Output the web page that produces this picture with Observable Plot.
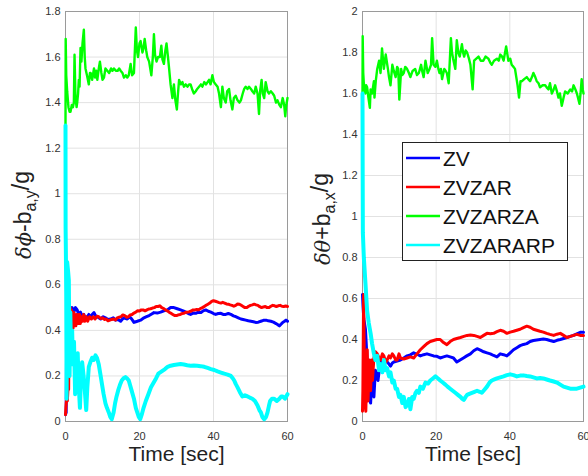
<!DOCTYPE html>
<html>
<head>
<meta charset="utf-8">
<script src="https://cdn.jsdelivr.net/npm/d3@7"></script>
<script src="https://cdn.jsdelivr.net/npm/@observablehq/plot@0.6"></script>
<style>
  html, body { margin: 0; padding: 0; background: #fff; }
  #wrap { position: relative; width: 588px; height: 476px; overflow: hidden; }
  #wrap svg { position: absolute; top: 0; }
</style>
</head>
<body>
<div id="wrap"></div>
<script>
// ---------- tick labels / categories ----------
const xTicks = [0, 20, 40, 60];
const yTicksLeft = [0, 0.2, 0.4, 0.6, 0.8, 1, 1.2, 1.4, 1.6, 1.8];
const yTicksRight = [0, 0.2, 0.4, 0.6, 0.8, 1, 1.2, 1.4, 1.6, 1.8, 2];
const seriesNames = ["ZV", "ZVZAR", "ZVZARZA", "ZVZARARP"];
const seriesColors = ["#0000ff", "#ff0000", "#00ff00", "#00ffff"];
const xLabel = "Time [sec]";

// ---------- left panel series [time, value] ----------
const leftZV = [[0,0.03],[0.18,0.04],[0.36,0.50],[0.45,0.51],[0.9,0.52],[1.35,0.49],[1.8,0.50],[2.26,0.48],[2.7,0.50],[3.16,0.49],[3.6,0.47],[4.06,0.48],[4.5,0.46],[4.96,0.47],[5.4,0.45],[5.9,0.46],[6.3,0.47],[6.8,0.456],[7.2,0.47],[7.7,0.478],[8.1,0.465],[8.6,0.46],[9.5,0.45],[10.2,0.46],[10.8,0.455],[11.5,0.448],[12.2,0.45],[12.9,0.455],[13.5,0.445],[14.2,0.448],[14.9,0.44],[15.4,0.45],[15.8,0.455],[16.7,0.45],[17.2,0.458],[17.6,0.456],[18.1,0.445],[18.5,0.435],[19.0,0.438],[19.4,0.44],[20.3,0.445],[21.2,0.455],[21.9,0.46],[22.6,0.465],[23.3,0.472],[23.9,0.478],[24.8,0.476],[25.7,0.48],[26.6,0.486],[27.5,0.49],[28.4,0.50],[29.3,0.50],[30.2,0.495],[31.1,0.49],[31.8,0.486],[32.5,0.48],[33.2,0.474],[33.8,0.47],[34.5,0.476],[35.2,0.475],[35.9,0.48],[36.6,0.478],[37.2,0.486],[37.9,0.49],[38.6,0.484],[39.3,0.48],[40.0,0.474],[40.6,0.47],[41.3,0.474],[42.0,0.475],[42.6,0.47],[43.3,0.47],[44.0,0.474],[44.7,0.47],[45.4,0.464],[46.0,0.46],[46.7,0.455],[47.4,0.45],[48.0,0.448],[48.7,0.445],[49.4,0.442],[50.1,0.44],[50.8,0.438],[51.4,0.435],[52.1,0.436],[52.8,0.44],[53.5,0.444],[54.2,0.445],[54.8,0.442],[55.5,0.44],[56.2,0.436],[56.9,0.43],[57.4,0.425],[57.8,0.42],[58.3,0.428],[58.7,0.435],[59.2,0.44],[59.6,0.445],[60,0.44]];

const leftZVZAR = [[0,0.03],[0.1,0.06],[0.3,0.10],[0.5,0.09],[0.7,0.15],[0.85,0.14],[1.0,0.48],[1.15,0.40],[1.3,0.50],[1.45,0.39],[1.6,0.49],[1.75,0.40],[1.9,0.48],[2.05,0.41],[2.2,0.48],[2.4,0.42],[2.6,0.47],[2.8,0.42],[3.0,0.47],[3.2,0.43],[3.4,0.47],[3.6,0.43],[3.8,0.47],[4.0,0.43],[4.3,0.46],[4.6,0.44],[4.9,0.47],[5.2,0.44],[5.6,0.46],[6.0,0.44],[6.5,0.46],[7.0,0.45],[7.5,0.46],[8.0,0.45],[8.5,0.462],[9.0,0.46],[9.5,0.452],[10,0.455],[10.5,0.448],[11,0.45],[11.5,0.442],[12,0.445],[12.5,0.448],[13,0.45],[13.5,0.446],[14,0.455],[14.5,0.458],[15,0.46],[15.5,0.468],[16,0.465],[16.5,0.458],[17,0.46],[17.5,0.468],[18,0.47],[18.5,0.476],[19,0.48],[19.5,0.486],[20,0.485],[20.5,0.49],[21,0.49],[21.5,0.486],[22,0.49],[22.5,0.494],[23,0.495],[23.5,0.498],[24,0.50],[24.5,0.505],[25,0.505],[25.5,0.508],[26,0.50],[26.5,0.496],[27,0.49],[27.5,0.486],[28,0.48],[28.5,0.475],[29,0.47],[29.5,0.465],[30,0.465],[30.5,0.468],[31,0.47],[31.5,0.474],[32,0.475],[32.5,0.48],[33,0.48],[33.5,0.482],[34,0.485],[34.5,0.49],[35,0.49],[35.5,0.492],[36,0.49],[36.5,0.496],[37,0.50],[37.5,0.505],[38,0.51],[38.5,0.515],[39,0.52],[39.5,0.527],[40,0.53],[40.5,0.528],[41,0.525],[41.5,0.522],[42,0.52],[42.5,0.523],[43,0.52],[43.5,0.516],[44,0.515],[44.5,0.512],[45,0.51],[45.5,0.506],[46,0.51],[46.5,0.516],[47,0.515],[47.5,0.51],[48,0.505],[48.5,0.50],[49,0.50],[49.5,0.506],[50,0.51],[50.5,0.512],[51,0.515],[51.5,0.512],[52,0.51],[52.5,0.504],[53,0.50],[53.5,0.503],[54,0.505],[54.5,0.50],[55,0.50],[55.5,0.506],[56,0.51],[56.5,0.508],[57,0.505],[57.5,0.508],[58,0.51],[58.5,0.506],[59,0.505],[59.5,0.507],[60,0.505]];

const leftZVZARZA = [[0,1.30],[0.05,1.68],[0.2,1.52],[0.45,1.45],[0.8,1.38],[1.1,1.36],[1.35,1.36],[1.7,1.39],[2.0,1.38],[2.26,1.40],[2.44,1.61],[2.7,1.42],[3.0,1.38],[3.16,1.40],[3.4,1.44],[3.6,1.50],[3.8,1.47],[4.06,1.64],[4.3,1.58],[4.6,1.66],[4.96,1.72],[5.2,1.60],[5.4,1.55],[5.8,1.52],[6.3,1.48],[6.6,1.53],[6.8,1.53],[7.2,1.50],[7.7,1.55],[8.0,1.51],[8.3,1.54],[8.6,1.50],[9.0,1.55],[9.3,1.58],[9.7,1.53],[10.0,1.50],[10.4,1.51],[10.8,1.55],[11.3,1.54],[11.8,1.53],[12.3,1.55],[12.7,1.54],[13.1,1.55],[13.6,1.54],[14.1,1.54],[14.5,1.55],[14.9,1.54],[15.4,1.53],[15.8,1.51],[16.3,1.52],[16.7,1.51],[17.1,1.52],[17.6,1.57],[18.0,1.52],[18.5,1.53],[19.0,1.73],[19.3,1.63],[19.6,1.60],[20.0,1.66],[20.3,1.67],[20.8,1.62],[21.1,1.64],[21.4,1.68],[21.8,1.63],[22.1,1.60],[22.6,1.58],[23.2,1.52],[23.6,1.60],[23.9,1.70],[24.2,1.61],[24.6,1.58],[25.0,1.60],[25.5,1.60],[25.9,1.65],[26.2,1.59],[26.6,1.57],[27.0,1.63],[27.3,1.66],[27.7,1.60],[28.0,1.55],[28.4,1.48],[28.9,1.42],[29.3,1.48],[29.7,1.41],[30.1,1.37],[30.4,1.44],[30.7,1.50],[31.2,1.48],[31.6,1.49],[32.0,1.47],[32.5,1.48],[33.0,1.47],[33.4,1.48],[33.8,1.48],[34.2,1.46],[34.7,1.44],[35.2,1.45],[35.6,1.46],[36.1,1.47],[36.6,1.48],[37.0,1.47],[37.5,1.49],[38.0,1.48],[38.4,1.49],[38.8,1.50],[39.2,1.48],[39.7,1.52],[40.1,1.49],[40.6,1.48],[41.1,1.47],[41.5,1.44],[42.0,1.38],[42.4,1.47],[42.8,1.42],[43.3,1.40],[43.7,1.45],[44.2,1.46],[44.6,1.41],[45.1,1.37],[45.5,1.42],[46.0,1.43],[46.5,1.41],[47.0,1.40],[47.4,1.41],[47.9,1.44],[48.3,1.46],[48.7,1.47],[49.2,1.46],[49.6,1.47],[50.1,1.46],[50.5,1.45],[51.0,1.44],[51.4,1.47],[51.9,1.44],[52.3,1.35],[52.6,1.45],[53.0,1.50],[53.3,1.44],[53.7,1.42],[54.1,1.49],[54.6,1.45],[55.0,1.44],[55.5,1.45],[56.0,1.44],[56.4,1.43],[56.9,1.40],[57.3,1.41],[57.8,1.39],[58.2,1.38],[58.7,1.42],[59.1,1.39],[59.4,1.34],[59.6,1.38],[60,1.42]];

const leftZVZARARP = [[0,1.30],[0.03,0.85],[0.1,0.75],[0.2,0.55],[0.3,0.10],[0.4,0.45],[0.45,0.70],[0.7,0.66],[0.9,0.62],[1.1,0.20],[1.3,0.48],[1.5,0.30],[1.8,0.40],[2.0,0.25],[2.3,0.35],[2.6,0.12],[2.9,0.22],[3.3,0.30],[3.6,0.15],[3.9,0.06],[4.2,0.20],[4.5,0.26],[4.9,0.20],[5.2,0.14],[5.6,0.05],[5.9,0.15],[6.3,0.24],[6.7,0.26],[7.2,0.28],[7.6,0.27],[8.1,0.29],[8.5,0.28],[9.0,0.25],[9.4,0.21],[9.9,0.16],[10.3,0.12],[10.8,0.08],[11.2,0.06],[11.7,0.04],[12.1,0.02],[12.5,0.01],[13.0,0.04],[13.4,0.08],[13.8,0.11],[14.3,0.14],[14.7,0.16],[15.2,0.18],[15.7,0.19],[16.2,0.195],[16.6,0.19],[17.1,0.18],[17.8,0.14],[18.5,0.10],[19.0,0.06],[19.4,0.04],[19.8,0.02],[20.2,0.01],[20.6,0.03],[21.1,0.06],[21.7,0.09],[22.4,0.12],[23.1,0.15],[23.8,0.17],[24.5,0.19],[25.1,0.21],[26.0,0.22],[26.9,0.23],[27.6,0.24],[28.4,0.245],[29.3,0.248],[30.2,0.25],[31.1,0.252],[32.0,0.25],[32.9,0.247],[33.8,0.245],[34.7,0.246],[35.6,0.245],[36.5,0.243],[37.5,0.24],[38.4,0.235],[39.3,0.23],[40.2,0.226],[41.1,0.22],[42.0,0.215],[42.9,0.21],[43.8,0.206],[44.7,0.20],[45.2,0.19],[45.6,0.18],[46.0,0.165],[46.5,0.15],[47.1,0.13],[47.8,0.11],[48.5,0.115],[49.2,0.11],[49.8,0.105],[50.5,0.10],[51.2,0.09],[51.9,0.07],[52.4,0.05],[52.8,0.04],[53.2,0.02],[53.7,0.01],[54.2,0.02],[54.6,0.04],[55.0,0.07],[55.3,0.09],[55.8,0.10],[56.4,0.10],[57.1,0.09],[57.8,0.10],[58.3,0.11],[58.7,0.11],[59.3,0.10],[60,0.12]];

// ---------- right panel series [time, value] ----------
const rightZV = [[0,0.62],[0.15,0.56],[0.36,0.50],[0.8,0.45],[1.26,0.30],[1.7,0.15],[2.2,0.09],[2.6,0.22],[3.1,0.12],[3.5,0.25],[4.2,0.20],[4.9,0.30],[5.4,0.27],[5.8,0.28],[6.3,0.30],[6.7,0.29],[7.2,0.28],[7.6,0.27],[8.1,0.285],[8.5,0.29],[9.4,0.295],[10.3,0.30],[11.2,0.31],[12.1,0.32],[13.0,0.325],[13.9,0.335],[14.8,0.328],[15.7,0.32],[16.6,0.326],[17.5,0.33],[18.4,0.325],[19.3,0.32],[20.2,0.318],[21.1,0.31],[22.0,0.315],[22.9,0.32],[23.8,0.315],[24.7,0.31],[25.6,0.29],[26.5,0.30],[27.4,0.31],[28.3,0.32],[29.3,0.33],[30.2,0.345],[31.1,0.355],[32.0,0.348],[32.9,0.34],[33.8,0.335],[34.7,0.33],[35.6,0.322],[36.5,0.315],[37.4,0.33],[38.3,0.326],[39.2,0.32],[40.1,0.335],[41.0,0.35],[41.9,0.36],[42.8,0.37],[43.7,0.376],[44.6,0.38],[45.5,0.39],[46.4,0.395],[47.3,0.398],[48.2,0.40],[49.1,0.402],[50.0,0.40],[50.9,0.395],[51.9,0.39],[52.8,0.396],[53.7,0.40],[54.6,0.405],[55.5,0.41],[56.4,0.415],[57.3,0.42],[58.2,0.428],[59.1,0.435],[60,0.435]];

const rightZVZAR = [[0,0.05],[0.1,0.15],[0.3,0.62],[0.6,0.10],[0.9,0.05],[1.3,0.35],[1.5,0.10],[1.9,0.30],[2.2,0.15],[2.5,0.30],[2.7,0.20],[3.1,0.31],[3.5,0.34],[4.0,0.33],[4.5,0.31],[4.9,0.30],[5.4,0.33],[5.8,0.32],[6.3,0.29],[6.7,0.30],[7.2,0.32],[7.6,0.31],[8.1,0.33],[8.5,0.32],[9.0,0.30],[9.4,0.30],[9.9,0.33],[10.3,0.31],[11.2,0.305],[12.1,0.31],[13.0,0.315],[13.9,0.31],[14.8,0.33],[15.7,0.35],[16.6,0.365],[17.5,0.38],[18.4,0.39],[19.3,0.395],[20.2,0.40],[21.1,0.40],[22.0,0.385],[22.9,0.375],[23.8,0.39],[24.7,0.40],[25.6,0.405],[26.6,0.41],[27.5,0.415],[28.4,0.42],[29.3,0.422],[30.2,0.42],[31.1,0.415],[32.0,0.41],[32.9,0.42],[33.8,0.43],[34.7,0.428],[35.6,0.43],[36.5,0.438],[37.4,0.445],[38.3,0.44],[39.2,0.43],[40.1,0.436],[41.0,0.44],[41.9,0.445],[42.8,0.45],[43.7,0.458],[44.6,0.465],[45.5,0.46],[46.4,0.45],[47.3,0.445],[48.2,0.44],[49.1,0.436],[50.0,0.43],[50.9,0.425],[51.9,0.42],[52.8,0.426],[53.7,0.43],[54.6,0.42],[55.5,0.41],[56.4,0.415],[57.3,0.42],[58.2,0.425],[59.1,0.42],[60,0.42]];

const rightZVZARZA = [[0,1.60],[0.05,1.88],[0.2,1.70],[0.36,1.65],[0.6,1.62],[0.8,1.60],[1.0,1.64],[1.26,1.63],[1.6,1.58],[2.0,1.53],[2.2,1.62],[2.6,1.60],[3.1,1.66],[3.25,1.58],[3.6,1.66],[4.0,1.72],[4.5,1.76],[4.9,1.70],[5.3,1.82],[5.8,1.72],[6.3,1.79],[6.9,1.72],[7.2,1.68],[7.6,1.64],[8.1,1.74],[8.5,1.71],[9.0,1.68],[9.4,1.73],[9.7,1.72],[10.0,1.57],[10.5,1.72],[10.8,1.69],[11.2,1.70],[11.6,1.73],[12.1,1.72],[12.6,1.70],[13.0,1.68],[13.6,1.71],[14.3,1.72],[14.8,1.69],[15.3,1.70],[15.9,1.74],[16.2,1.71],[16.6,1.68],[17.1,1.76],[17.7,1.70],[18.2,1.72],[18.6,1.74],[18.9,1.87],[19.3,1.74],[19.8,1.73],[20.2,1.76],[20.6,1.72],[20.9,1.70],[21.3,1.72],[21.6,1.67],[22.2,1.72],[22.6,1.71],[22.9,1.70],[23.4,1.65],[24.0,1.87],[24.3,1.80],[24.6,1.77],[25.2,1.72],[25.6,1.86],[26.0,1.80],[26.4,1.78],[27.0,1.84],[27.3,1.80],[27.6,1.78],[28.0,1.81],[28.4,1.80],[28.9,1.77],[29.3,1.74],[29.9,1.62],[30.3,1.76],[30.9,1.77],[31.5,1.78],[32.1,1.76],[32.8,1.76],[33.4,1.78],[34.2,1.77],[34.7,1.75],[35.1,1.74],[35.7,1.76],[36.5,1.77],[37.0,1.76],[37.4,1.79],[37.9,1.78],[38.3,1.76],[39.0,1.83],[39.6,1.76],[40.1,1.77],[40.5,1.74],[41.0,1.73],[41.4,1.72],[42.1,1.64],[42.5,1.58],[42.9,1.66],[43.3,1.66],[43.9,1.67],[44.6,1.68],[45.0,1.67],[45.5,1.66],[46.0,1.68],[46.4,1.70],[46.9,1.68],[47.3,1.66],[47.8,1.65],[48.2,1.63],[48.9,1.64],[49.6,1.64],[50.0,1.63],[50.5,1.62],[50.9,1.65],[51.4,1.60],[51.9,1.62],[52.3,1.64],[52.8,1.61],[53.2,1.58],[53.6,1.60],[54.1,1.54],[54.6,1.58],[55.0,1.61],[55.7,1.60],[56.4,1.62],[56.9,1.61],[57.3,1.64],[57.8,1.62],[58.2,1.60],[58.5,1.58],[58.9,1.55],[59.2,1.60],[59.5,1.67],[59.8,1.62],[60,1.60]];

const rightZVZARARP = [[0,1.60],[0.05,1.20],[0.1,0.92],[0.36,0.80],[0.8,0.675],[1.25,0.54],[1.7,0.48],[2.2,0.43],[2.6,0.38],[3.1,0.33],[3.5,0.30],[4.0,0.32],[4.5,0.25],[4.9,0.28],[5.4,0.24],[5.8,0.30],[6.3,0.25],[6.7,0.26],[7.2,0.22],[7.6,0.24],[8.1,0.19],[8.5,0.20],[9.0,0.16],[9.4,0.16],[9.9,0.12],[10.3,0.13],[10.8,0.09],[11.2,0.12],[11.7,0.07],[12.1,0.08],[12.6,0.11],[13.0,0.06],[13.5,0.12],[13.9,0.11],[14.4,0.14],[14.8,0.15],[15.3,0.14],[15.7,0.17],[16.4,0.16],[17.1,0.19],[17.8,0.185],[18.4,0.20],[19.1,0.21],[19.8,0.22],[20.5,0.21],[21.1,0.20],[21.8,0.19],[22.5,0.18],[23.1,0.17],[23.8,0.16],[24.5,0.15],[25.2,0.14],[25.9,0.13],[26.6,0.12],[27.1,0.11],[27.5,0.105],[28.0,0.12],[28.4,0.13],[29.0,0.135],[29.7,0.14],[30.4,0.145],[31.1,0.15],[31.8,0.145],[32.4,0.14],[33.1,0.155],[33.8,0.17],[34.5,0.19],[35.1,0.20],[35.8,0.205],[36.5,0.21],[37.4,0.215],[38.3,0.22],[39.2,0.226],[40.1,0.23],[41.0,0.226],[41.9,0.22],[42.8,0.224],[43.7,0.225],[44.6,0.222],[45.5,0.22],[46.4,0.215],[47.3,0.21],[48.2,0.212],[49.1,0.21],[50.0,0.205],[50.9,0.20],[51.9,0.195],[52.8,0.19],[53.7,0.18],[54.6,0.17],[55.5,0.165],[56.4,0.16],[57.3,0.16],[58.2,0.16],[59.1,0.165],[60,0.17]];

// ---------- drawing ----------
const fmt = d => String(d);
const strokeWidths = [3, 3, 2.4, 4];
const fontFamily = "'Liberation Sans', Arial, sans-serif";

function panel(series, yTicks, yMax, marginLeft, marginRight) {
  return Plot.plot({
    width: 294,
    height: 476,
    marginLeft,
    marginRight,
    marginTop: 11,
    marginBottom: 55,
    x: {domain: [0, 60]},
    y: {domain: [0, yMax]},
    style: {fontFamily, fontSize: "11px", color: "#333", background: "transparent", overflow: "visible"},
    marks: [
      Plot.gridX(xTicks, {stroke: "#e2e2e2", strokeOpacity: 1}),
      Plot.gridY(yTicks, {stroke: "#e2e2e2", strokeOpacity: 1}),
      Plot.frame({stroke: "#9a9a9a"}),
      Plot.axisX(xTicks, {tickSize: 0, tickPadding: 11, tickFormat: fmt, label: null}),
      Plot.axisY(yTicks, {tickSize: 0, tickPadding: 5, tickFormat: fmt, label: null}),
      ...series.map((s, i) => Plot.line(s, {x: d => d[0], y: d => d[1], stroke: seriesColors[i], strokeWidth: strokeWidths[i]})),
      Plot.text([xLabel], {frameAnchor: "bottom", dy: 39, fontSize: 21, fill: "#222", fontFamily})
    ]
  });
}

function addYLabel(svgNode, x, y, greek, op, sub) {
  const t = d3.select(svgNode).append("text")
    .attr("transform", `translate(${x},${y}) rotate(-90)`)
    .attr("text-anchor", "middle")
    .attr("fill", "#222")
    .style("font-family", fontFamily)
    .style("font-size", "23px");
  t.append("tspan").style("font-style", "italic").style("font-family", "'DejaVu Serif', serif").style("font-size", "21px").text(greek);
  t.append("tspan").text(op + "b");
  t.append("tspan").attr("dy", "0.32em").style("font-size", "16px").text(sub);
  t.append("tspan").attr("dy", "-0.32em").text("/g");
}

const wrap = document.getElementById("wrap");
const left = panel([leftZV, leftZVZAR, leftZVZARZA, leftZVZARARP], yTicksLeft, 1.8, 65, 7);
left.style.left = "0px";
wrap.appendChild(left);
addYLabel(left, 31, 215, "δϕ", "-", "a,y");

const right = panel([rightZV, rightZVZAR, rightZVZARZA, rightZVZARARP], yTicksRight, 2, 68, 5);
right.style.left = "294px";
wrap.appendChild(right);
addYLabel(right, 36, 219, "δθ", "+", "a,x");

// legend inside right panel
const lg = d3.select(right).append("g").attr("text-anchor", "start");
lg.append("rect").attr("x", 108.5).attr("y", 142.5).attr("width", 165).attr("height", 118)
  .attr("fill", "#fff").attr("stroke", "#222").attr("stroke-width", 1);
seriesNames.forEach((name, i) => {
  const yy = 158 + i * 29;
  lg.append("line").attr("x1", 112).attr("x2", 146).attr("y1", yy).attr("y2", yy)
    .attr("stroke", seriesColors[i]).attr("stroke-width", 2.5);
  lg.append("text").attr("x", 149).attr("y", yy).attr("dy", "0.36em")
    .attr("text-anchor", "start")
    .attr("fill", "#111").style("font-family", fontFamily).style("font-size", "21px").text(name);
});
</script>
</body>
</html>
